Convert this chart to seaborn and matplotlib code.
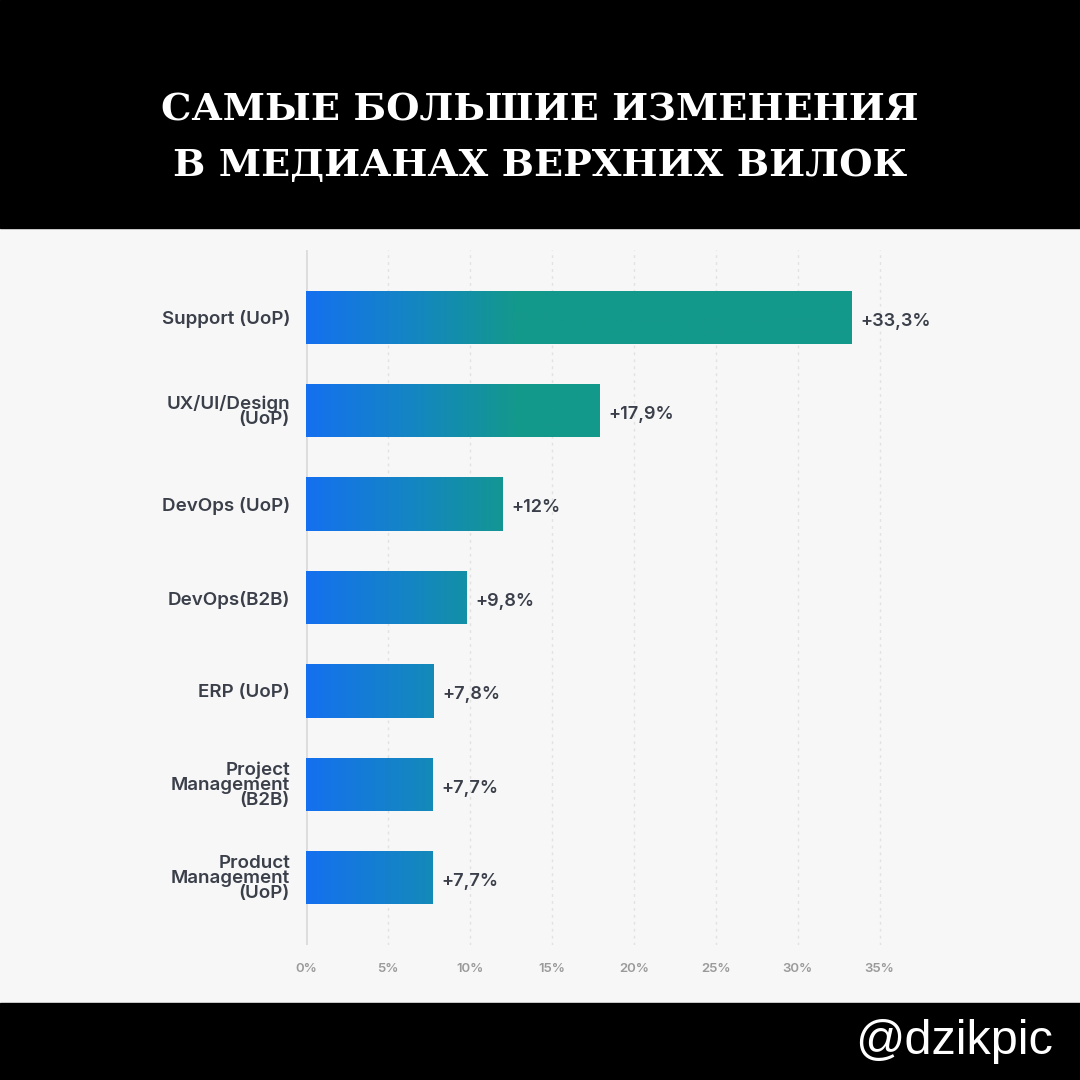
import numpy as np
import pandas as pd
import matplotlib
matplotlib.use("Agg")
import matplotlib.pyplot as plt
import seaborn as sns
from matplotlib.colors import LinearSegmentedColormap

# data
categories = ["Support (UoP)", "UX/UI/Design\n(UoP)", "DevOps (UoP)", "DevOps(B2B)",
              "ERP (UoP)", "Project\nManagement\n(B2B)", "Product\nManagement\n(UoP)"]
values = [33.3, 17.9, 12.0, 9.8, 7.8, 7.7, 7.7]
value_labels = ["+33,3%", "+17,9%", "+12%", "+9,8%", "+7,8%", "+7,7%", "+7,7%"]
xticks = [0, 5, 10, 15, 20, 25, 30, 35]
xtick_labels = ["0%", "5%", "10%", "15%", "20%", "25%", "30%", "35%"]

df = pd.DataFrame({"cat": categories, "val": values})

sns.set_style("white")
plt.rcParams["font.family"] = ["Inter", "DejaVu Sans"]

fig = plt.figure(figsize=(10.8, 10.8), dpi=100)
fig.patch.set_facecolor("#f7f7f7")

# black bands top and bottom
fig.add_artist(plt.Rectangle((0, 1 - 228 / 1080), 1, 228 / 1080, transform=fig.transFigure,
                             color="black", zorder=0))
fig.add_artist(plt.Rectangle((0, 0), 1, 77 / 1080, transform=fig.transFigure,
                             color="black", zorder=0))

fig.text(0.5, 1 - 110 / 1080, "САМЫЕ БОЛЬШИЕ ИЗМЕНЕНИЯ", ha="center", va="center",
         color="white", fontsize=27.5, fontweight="heavy", family="DejaVu Serif")
fig.text(0.5, 1 - 165 / 1080, "В МЕДИАНАХ ВЕРХНИХ ВИЛОК", ha="center", va="center",
         color="white", fontsize=27.5, fontweight="heavy", family="DejaVu Serif")
fig.text(1 - 27 / 1080, 38 / 1080, "@dzikpic", ha="right", va="center", color="white",
         fontsize=35, family="Liberation Sans")

ax = fig.add_axes([306 / 1080, 0.125, 590 / 1080, 0.6435])
ax.set_facecolor("#f7f7f7")

sns.barplot(data=df, x="val", y="cat", orient="h", ax=ax, width=0.57,
            color="#1570ef", edgecolor="none", zorder=3)

cmap = LinearSegmentedColormap.from_list("bt", ["#1570ef", "#1486c2", "#13998b"])
grad = np.clip(np.linspace(0, 36, 400) / 13.0, 0, 1).reshape(1, -1)
for p in ax.patches:
    p.set_facecolor("none")
    y0, h = p.get_y(), p.get_height()
    im = ax.imshow(grad, cmap=cmap, vmin=0, vmax=1, aspect="auto",
                   extent=[0, 36, y0 + h, y0], zorder=3, interpolation="bilinear")
    im.set_clip_path(p)

for i, (v, lab) in enumerate(zip(values, value_labels)):
    ax.text(v + 0.55, i + 0.04, lab, va="center", ha="left", fontsize=13,
            fontweight="semibold", color="#3a3f4a")

ax.set_xlim(0, 36)
ax.set_ylim(6.72, -0.72)
ax.set_xticks(xticks)
ax.set_xticklabels(xtick_labels, fontsize=9.5, fontweight="semibold", color="#9a9a9a")
ax.tick_params(axis="x", length=0, pad=13)
ax.tick_params(axis="y", length=0, pad=11.5)
ax.set_yticks(range(len(categories)))
ax.set_yticklabels(categories, fontsize=13.5, fontweight="semibold", color="#3a3f4a",
                   linespacing=0.82)
ax.set_xlabel("")
ax.set_ylabel("")
for t in xticks[1:]:
    ax.axvline(t, color="#e2e2e2", lw=1, ls=(0, (2, 3)), zorder=1)
ax.axvline(0, color="#dcdcdc", lw=2, zorder=2)
for s in ax.spines.values():
    s.set_visible(False)

fig.savefig("out.png", dpi=100, facecolor=fig.get_facecolor())
